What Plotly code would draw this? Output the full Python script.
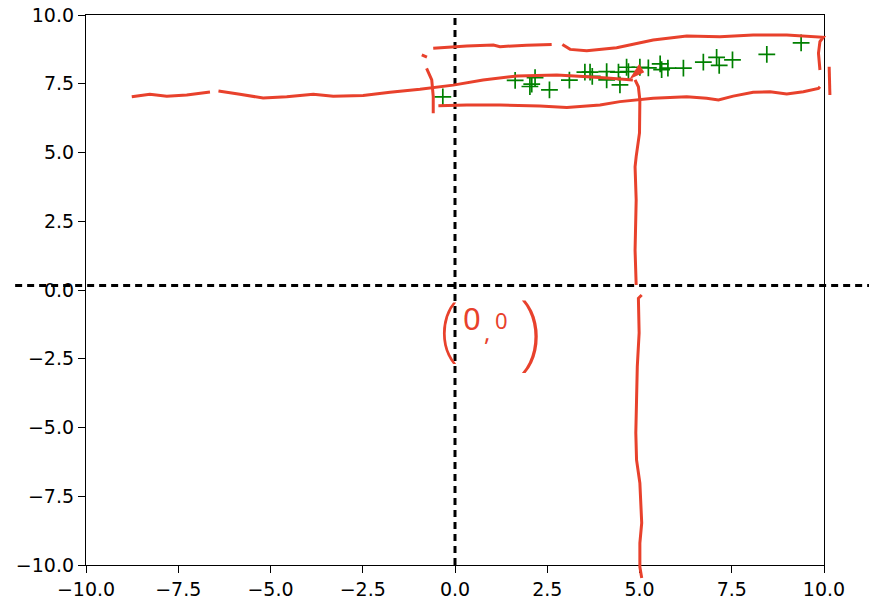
import plotly.graph_objects as go

# ---------------- data ----------------
X_RANGE = [-10, 10]
Y_RANGE = [-10, 10]
TICKS = [-10, -7.5, -5, -2.5, 0, 2.5, 5, 7.5, 10]

pts_x = [-0.33, 1.63, 2.03, 2.08, 2.17, 2.56, 3.10, 3.52, 3.66, 3.72, 4.11, 4.11,
         4.43, 4.47, 4.65, 4.70, 5.01, 5.24, 5.56, 5.60, 5.77, 6.19, 6.73, 7.09,
         7.16, 7.52, 8.45, 9.38]
pts_y = [7.02, 7.62, 7.40, 7.49, 7.72, 7.28, 7.63, 7.92, 7.92, 7.77, 7.94, 7.64,
         7.92, 7.46, 8.10, 7.94, 8.10, 8.08, 8.22, 8.01, 8.07, 8.07, 8.29, 8.46,
         8.17, 8.37, 8.57, 8.99]

# dotted guide lines (data units; the horizontal one runs past the axes)
VLINE_X = 0.0
HLINE_Y = 0.16
HLINE_X = [-11.92, 11.22]

# hand-drawn red strokes (data units)
STROKE_A1 = [(-8.76, 7.03), (-8.27, 7.12), (-7.81, 7.05), (-7.27, 7.09), (-6.64, 7.20)]
STROKE_A2 = [(-6.41, 7.24), (-5.83, 7.12), (-5.20, 6.98), (-4.56, 7.03), (-3.84, 7.12),
             (-3.30, 7.05), (-2.49, 7.07), (-1.76, 7.19), (-0.95, 7.30), (-0.05, 7.45),
             (0.76, 7.64), (1.68, 7.78), (2.76, 7.82), (3.47, 7.76), (4.12, 7.71), (4.82, 7.64)]
STROKE_B1 = [(-0.59, 8.79), (0.32, 8.87), (1.04, 8.91), (1.22, 8.85), (1.94, 8.90), (2.62, 8.93)]
STROKE_B2 = [(2.91, 8.93), (3.12, 8.75), (3.57, 8.70), (4.38, 8.81), (5.37, 9.09), (6.28, 9.24),
             (7.18, 9.21), (8.08, 9.27), (8.99, 9.27), (9.98, 9.19), (9.89, 9.03), (9.85, 8.61),
             (9.89, 8.00)]
STROKE_C = [(-0.45, 6.70), (0.32, 6.73), (1.22, 6.73), (2.30, 6.69), (3.03, 6.64), (3.93, 6.73),
            (4.47, 6.85), (5.37, 6.97), (6.28, 7.03), (6.82, 6.97), (7.14, 6.91), (7.54, 7.05),
            (8.08, 7.19), (8.54, 7.21), (8.99, 7.13), (9.44, 7.21), (9.85, 7.33), (9.89, 7.39)]
STROKE_D1 = [(-0.77, 8.06), (-0.63, 7.64), (-0.59, 7.03), (-0.59, 6.43)]
STROKE_D2 = [(-0.90, 8.55), (-0.76, 8.47)]
STROKE_E = [(10.14, 8.12), (10.16, 7.09)]
STROKE_F1 = [(4.88, 7.64), (4.97, 7.39), (5.01, 6.91), (5.00, 5.71), (4.91, 4.85), (4.88, 4.48),
             (4.91, 3.27), (4.88, 1.45), (4.91, 0.18)]
STROKE_F2 = [(5.06, -0.18), (4.97, -0.30), (4.99, -1.56), (4.94, -2.79), (4.92, -4.00),
             (4.90, -5.20), (4.92, -6.18), (5.01, -7.02), (5.06, -8.47), (5.01, -9.20),
             (5.01, -10.07), (5.06, -10.47)]
ARROW_TIP = [(4.80, 7.75), (4.99, 8.15), (5.09, 7.93)]

# handwritten "(0,0)" label pieces: text, x, y, font size, weight
LABEL_TEXT = ["(", "0", ",", "0", ")"]
LABEL_X = [-0.15, 0.46, 0.86, 1.27, 2.03]
LABEL_Y = [-1.30, -1.02, -1.50, -1.09, -1.35]
LABEL_SIZE = [70, 31, 24, 22, 84]
LABEL_WEIGHT = [200, 400, 400, 400, 200]

RED = "#e8412c"
GREEN = "#008000"


def to_paper(x, y):
    px = (x - X_RANGE[0]) / (X_RANGE[1] - X_RANGE[0])
    py = (y - Y_RANGE[0]) / (Y_RANGE[1] - Y_RANGE[0])
    return px, py


def path_of(points, close=False):
    parts = []
    for i, (x, y) in enumerate(points):
        px, py = to_paper(x, y)
        parts.append(("M" if i == 0 else "L") + f"{px:.5f},{py:.5f}")
    s = " ".join(parts)
    if close:
        s += " Z"
    return s


fig = go.Figure()
fig.add_trace(go.Scatter(
    x=pts_x, y=pts_y, mode="markers",
    marker=dict(symbol="cross-thin", size=12, color=GREEN,
                line=dict(color=GREEN, width=1.7)),
    showlegend=False, hoverinfo="skip"))

shapes = []
# dotted guide lines
vx, _ = to_paper(VLINE_X, 0)
shapes.append(dict(type="line", xref="paper", yref="paper", x0=vx, x1=vx, y0=0, y1=1,
                   line=dict(color="black", width=3, dash="7px,5px"), layer="above"))
hx0, hy = to_paper(HLINE_X[0], HLINE_Y)
hx1, _ = to_paper(HLINE_X[1], HLINE_Y)
shapes.append(dict(type="line", xref="paper", yref="paper", x0=hx0, x1=hx1, y0=hy, y1=hy,
                   line=dict(color="black", width=3, dash="7px,5px"), layer="above"))

for stroke in [STROKE_A1, STROKE_A2, STROKE_B1, STROKE_B2, STROKE_C, STROKE_D1,
               STROKE_D2, STROKE_E, STROKE_F1, STROKE_F2]:
    shapes.append(dict(type="path", xref="paper", yref="paper", path=path_of(stroke),
                       line=dict(color=RED, width=3), layer="above"))
shapes.append(dict(type="path", xref="paper", yref="paper", path=path_of(ARROW_TIP, True),
                   line=dict(color=RED, width=2), fillcolor=RED, layer="above"))

annotations = []
for t, x, y, s, w in zip(LABEL_TEXT, LABEL_X, LABEL_Y, LABEL_SIZE, LABEL_WEIGHT):
    annotations.append(dict(text=t, x=x, y=y, xref="x", yref="y", showarrow=False,
                            xanchor="center", yanchor="middle", borderpad=0,
                            font=dict(family="Noto Sans", size=s, color=RED, weight=w)))

axis_common = dict(
    range=X_RANGE, tickvals=TICKS, tickformat=".1f", ticks="outside", ticklen=7,
    tickwidth=1.2, tickcolor="black", showline=True, linecolor="black", linewidth=1.2,
    mirror=True, showgrid=False, zeroline=False, automargin=False,
    tickfont=dict(family="DejaVu Sans", size=19, color="black"),
)

fig.update_layout(
    width=869, height=602,
    margin=dict(l=86, r=45, t=15, b=37, pad=0),
    paper_bgcolor="white", plot_bgcolor="white",
    xaxis=dict(axis_common),
    yaxis=dict(axis_common, range=Y_RANGE),
    shapes=shapes, annotations=annotations,
    showlegend=False,
)

fig.write_html("out.html")
